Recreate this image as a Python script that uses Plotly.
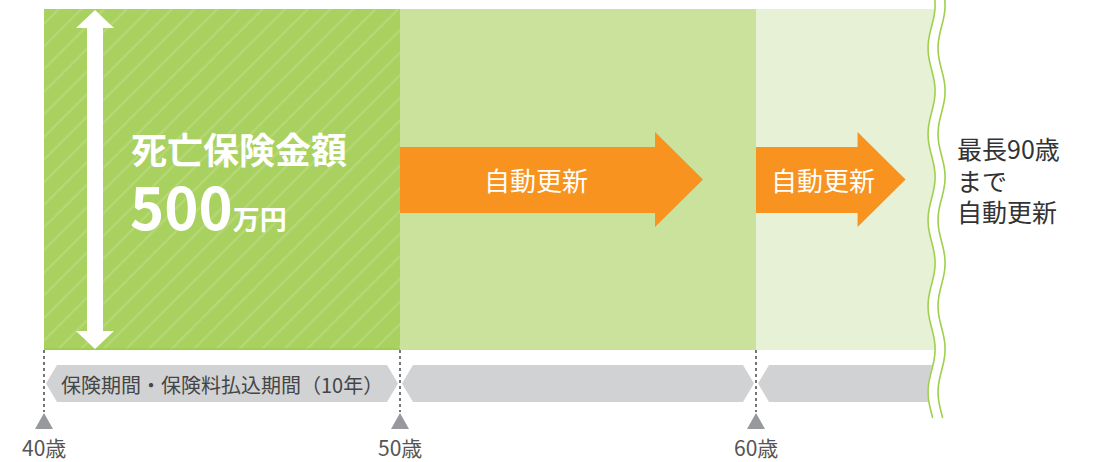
import numpy as np
import plotly.graph_objects as go

# ---------------- data ----------------
period_start = [40, 50, 60]
period_length = [10, 10, 5.1]          # last period is cut by the wavy edge
tick_ages = [40, 50, 60]
tick_labels = ["40歳", "50歳", "60歳"]
block_colors = ["#a9d15f", "#cae29c", "#e6f1d5"]
renew_start = [50, 60]
renew_labels = ["自動更新", "自動更新"]
bar_label = "保険期間・保険料払込期間（10年）"
benefit_title = "死亡保険金額"
benefit_amount = "500"
benefit_unit = "万円"
note_lines = ["最長90歳", "まで", "自動更新"]

# ---------------- layout constants (pixels) ----------------
W, H = 1094, 462
X0 = 44          # pixel of first age
S = 35.6         # pixels per year
FONT = "Noto Sans CJK JP"

BLOCK_TOP, BLOCK_BOT = 9, 350
GREY_TOP, GREY_BOT = 365, 402
ARROW_BODY_TOP, ARROW_BODY_BOT = 147, 213
ARROW_HEAD_TOP, ARROW_HEAD_BOT = 132, 227


def dx(px):
    return px / S


def ax(px):
    return period_start[0] + (px - X0) / S


period_end = [s + l for s, l in zip(period_start, period_length)]
END = period_end[-1]

fig = go.Figure()

# ---------------- coloured blocks (bars) ----------------
for i, (s, l, c) in enumerate(zip(period_start, period_length, block_colors)):
    marker = dict(color=c, line=dict(width=0))
    if i == 0:
        marker["pattern"] = dict(shape="/", size=16, solidity=0.14,
                                 fgcolor="#b7d878", bgcolor=c, fillmode="replace")
    fig.add_trace(go.Bar(
        orientation="h", base=[s], x=[l], y=[(BLOCK_TOP + BLOCK_BOT) / 2],
        width=[BLOCK_BOT - BLOCK_TOP], marker=marker, hoverinfo="skip",
        showlegend=False))

shapes = []
annotations = []

# thin bright edge under the first block
shapes.append(dict(type="line", x0=period_start[0], x1=period_end[0],
                   y0=BLOCK_BOT - 1, y1=BLOCK_BOT - 1, xref="x", yref="y",
                   line=dict(color="#9ccd4a", width=1.5), layer="above"))

# ---------------- grey period bars ----------------
GAP, DEPTH = 2, 11
ym = (GREY_TOP + GREY_BOT) / 2
for i, (s, e) in enumerate(zip(period_start, period_end)):
    l_pt = s + dx(GAP)
    l_c = s + dx(GAP + DEPTH)
    if i < len(period_start) - 1:
        r_pt = e - dx(GAP)
        r_c = e - dx(GAP + DEPTH)
        path = (f"M{l_pt},{ym} L{l_c},{GREY_TOP} L{r_c},{GREY_TOP} L{r_pt},{ym} "
                f"L{r_c},{GREY_BOT} L{l_c},{GREY_BOT} Z")
    else:
        path = (f"M{l_pt},{ym} L{l_c},{GREY_TOP} L{e},{GREY_TOP} "
                f"L{e},{GREY_BOT} L{l_c},{GREY_BOT} Z")
    shapes.append(dict(type="path", path=path, xref="x", yref="y",
                       fillcolor="#d1d2d4", line=dict(width=0), layer="above"))

annotations.append(dict(x=(period_start[0] + period_end[0]) / 2, y=ym + 1,
                        text=bar_label, showarrow=False, xref="x", yref="y",
                        font=dict(family=FONT, size=20, color="#454545")))

# ---------------- dotted tick lines, triangles, labels ----------------
for a, lab in zip(tick_ages, tick_labels):
    shapes.append(dict(type="line", x0=a, x1=a, y0=BLOCK_BOT, y1=412,
                       xref="x", yref="y", layer="above",
                       line=dict(color="#4a4a4a", width=1.5, dash="dot")))
    tri = f"M{a - dx(9)},429 L{a + dx(9)},429 L{a},413 Z"
    shapes.append(dict(type="path", path=tri, xref="x", yref="y",
                       fillcolor="#98999c", line=dict(width=0), layer="above"))
    annotations.append(dict(x=a, y=447, text=lab, showarrow=False,
                            xref="x", yref="y",
                            font=dict(family=FONT, size=21, color="#555555")))

# ---------------- orange renewal arrows ----------------
HEAD_LEN = 48
tip_gap = [53, 32]
arrow_end = [period_end[1], END]
for s, e, g, lab in zip(renew_start, arrow_end, tip_gap, renew_labels):
    tip = e - dx(g)
    hs = tip - dx(HEAD_LEN)
    ymid = (ARROW_HEAD_TOP + ARROW_HEAD_BOT) / 2
    path = (f"M{s},{ARROW_BODY_TOP} L{hs},{ARROW_BODY_TOP} L{hs},{ARROW_HEAD_TOP} "
            f"L{tip},{ymid} L{hs},{ARROW_HEAD_BOT} L{hs},{ARROW_BODY_BOT} "
            f"L{s},{ARROW_BODY_BOT} Z")
    shapes.append(dict(type="path", path=path, xref="x", yref="y",
                       fillcolor="#f7931e", line=dict(width=0), layer="above"))
    annotations.append(dict(x=s + 0.45 * (tip - s), y=ymid, text=lab,
                            showarrow=False, xref="x", yref="y",
                            font=dict(family=FONT, size=26, color="white")))

# ---------------- white double-headed arrow ----------------
cx = period_start[0] + dx(51)
hw, sw = dx(19), dx(8)
t, tb, bb, b = 10, 28, 331, 349
path = (f"M{cx},{t} L{cx + hw},{tb} L{cx + sw},{tb} L{cx + sw},{bb} L{cx + hw},{bb} "
        f"L{cx},{b} L{cx - hw},{bb} L{cx - sw},{bb} L{cx - sw},{tb} L{cx - hw},{tb} Z")
shapes.append(dict(type="path", path=path, xref="x", yref="y",
                   fillcolor="white", line=dict(width=0), layer="above"))

annotations.append(dict(x=period_start[0] + dx(85), y=148, text=f"<b>{benefit_title}</b>",
                        showarrow=False, xref="x", yref="y", xanchor="left",
                        font=dict(family=FONT, size=36, color="white")))
annotations.append(dict(x=period_start[0] + dx(84), y=205,
                        text=(f"<b>{benefit_amount}<span style='font-size:27px'>"
                              f"{benefit_unit}</span></b>"),
                        showarrow=False, xref="x", yref="y", xanchor="left",
                        font=dict(family=FONT, size=58, color="white")))

# ---------------- wavy cut edge ----------------
wy = np.linspace(-2, 418, 260)
wave = 3.5 * np.sin(2 * np.pi * wy / 86 + 1.2)
WC = X0 + (END - period_start[0]) * S - 1   # centre pixel of the white band


def wave_path(offset_px):
    xs = [ax(WC + offset_px + w) for w in wave]
    return "M" + " L".join(f"{x},{y}" for x, y in zip(xs, wy))


shapes.append(dict(type="path", path=wave_path(0), xref="x", yref="y",
                   line=dict(color="white", width=11), layer="above"))
for off in (-5, 5):
    shapes.append(dict(type="path", path=wave_path(off), xref="x", yref="y",
                       line=dict(color="#9fcf4c", width=1.6), layer="above"))

note_y = [148, 180, 211]
for line, yy in zip(note_lines, note_y):
    annotations.append(dict(x=ax(955), y=yy, text=line,
                            showarrow=False, xref="x", yref="y", xanchor="left",
                            font=dict(family=FONT, size=25, color="#333333")))

fig.update_layout(
    width=W, height=H, margin=dict(l=0, r=0, t=0, b=0),
    paper_bgcolor="white", plot_bgcolor="white",
    barmode="overlay", bargap=0, showlegend=False,
    xaxis=dict(range=[ax(0), ax(W)], visible=False, fixedrange=True),
    yaxis=dict(range=[H, 0], visible=False, fixedrange=True),
    shapes=shapes, annotations=annotations,
)

fig.write_html("out.html", config={"displayModeBar": False},
               post_script="document.body.style.margin='0';"
                           "document.body.style.overflow='hidden';")
